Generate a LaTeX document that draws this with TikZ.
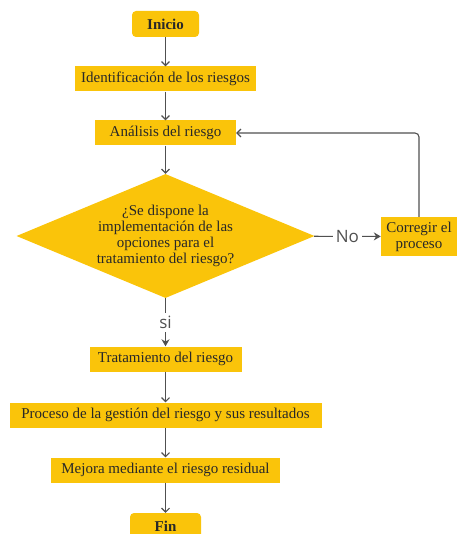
\documentclass[tikz,border=0pt]{standalone}
\usepackage{fontspec}
\setmainfont{Liberation Serif}
\newfontfamily\labelfont{Open Sans}
\usetikzlibrary{shapes.geometric,arrows.meta}
\definecolor{boxyellow}{RGB}{250,196,10}
\definecolor{linegray}{RGB}{80,80,80}
\definecolor{textdark}{RGB}{40,40,40}

\begin{document}
\begin{tikzpicture}[
  x = 1pt, y = -1pt,
  every node/.style = {text=textdark, font=\fontsize{15}{16}\selectfont},
  stepbox/.style = {rectangle, fill=boxyellow, inner sep=0pt, minimum height=25pt},
  terminal/.style = {stepbox, rounded corners=4pt, minimum height=26pt, font=\bfseries\fontsize{15}{16}\selectfont},
  decision/.style = {diamond, fill=boxyellow, inner sep=0pt, aspect=2.4, align=center},
  answer/.style = {fill=white, inner sep=3pt, font=\labelfont\fontsize{17}{17}\selectfont, text=linegray},
  flow/.style = {draw=linegray, line width=1.1pt, -{Straight Barb[length=4pt,width=8pt]}},
  flowfilled/.style = {draw=linegray, line width=1.1pt, -{Stealth[length=7pt,width=8pt]}},
  ]
  \clip (0,0) rectangle (457,534);

  \node[terminal, minimum width=67pt] (inicio) at (165.5,24) {Inicio};
  \node[stepbox, minimum width=181pt] (ident) at (165.5,79) {Identificación de los riesgos};
  \node[stepbox, minimum width=141pt] (analisis) at (165.5,133) {Análisis del riesgo};
  \node[decision, minimum width=298pt, minimum height=124pt] (pregunta) at (165.5,236)
    {¿Se dispone la\\implementación de las\\opciones para el\\tratamiento del riesgo?};
  \node[stepbox, minimum width=76pt, minimum height=39pt, align=center] (corregir) at (419,236.5)
    {Corregir el\\proceso};
  \node[stepbox, minimum width=152pt] (tratam) at (165.5,359) {Tratamiento del riesgo};
  \node[stepbox, minimum width=312pt] (proceso) at (165.5,415) {Proceso de la gestión del riesgo y sus resultados};
  \node[stepbox, minimum width=229pt] (mejora) at (165.5,470) {Mejora mediante el riesgo residual};
  \node[terminal, minimum width=71pt] (fin) at (165.5,526) {Fin};

  % main line
  \draw[flow] (inicio) -- (ident);
  \draw[flow] (ident) -- (analisis);
  \draw[flow] (analisis) -- (pregunta);
  \draw[flowfilled] (pregunta) -- node[answer] {si} (tratam);
  \draw[flow] (tratam) -- (proceso);
  \draw[flow] (proceso) -- (mejora);
  \draw[flow] (mejora) -- (fin);

  % loop back
  \draw[flowfilled] (pregunta) -- node[answer] {No} (corregir);
  \draw[flow, rounded corners=4pt] (corregir.north) |- (analisis.east);
\end{tikzpicture}
\end{document}
